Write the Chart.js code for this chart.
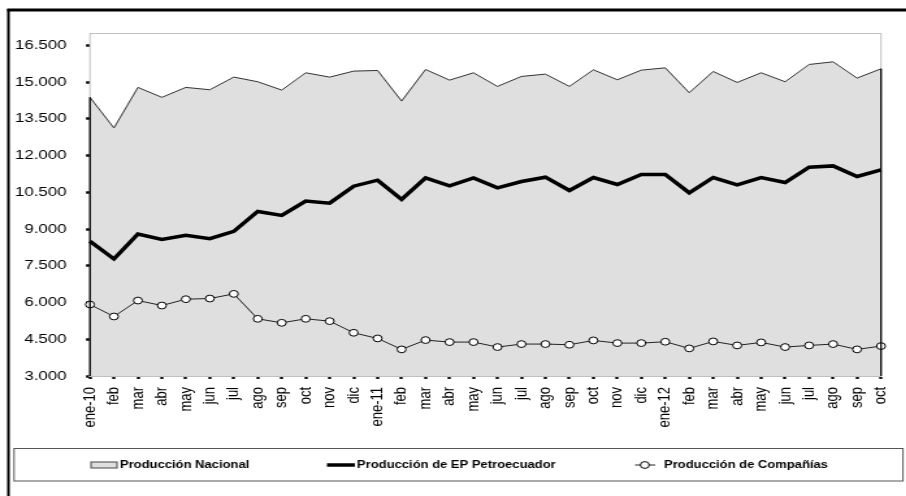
<!DOCTYPE html>
<html>
<head>
<meta charset="utf-8">
<script src="https://cdn.jsdelivr.net/npm/chart.js@4.4.0/dist/chart.umd.min.js"></script>
<style>
html, body { margin: 0; padding: 0; background: #fff; overflow: hidden; }
/* el grafico original esta estirado en horizontal, por eso el scaleX */
#wrap { width: 697px; height: 496px; transform: scaleX(1.3); transform-origin: 0 0; }
</style>
</head>
<body>
<div id="wrap"><canvas id="grafico" width="697" height="496"></canvas></div>
<script>
/******** datos (barriles diarios) ********/
const meses = ["ene-10", "feb", "mar", "abr", "may", "jun", "jul", "ago", "sep", "oct", "nov", "dic",
    "ene-11", "feb", "mar", "abr", "may", "jun", "jul", "ago", "sep", "oct", "nov", "dic",
    "ene-12", "feb", "mar", "abr", "may", "jun", "jul", "ago", "sep", "oct"];

const nacional = [14374, 13123, 14779, 14374, 14779, 14684, 15200, 15010, 14670, 15376, 15199, 15444,
    15471, 14222, 15512, 15077, 15376, 14820, 15227, 15322, 14820, 15498, 15091, 15484,
    15579, 14562, 15430, 14982, 15376, 15010, 15715, 15824, 15159, 15539];

const petroecuador = [8496, 7777, 8794, 8577, 8740, 8604, 8903, 9717, 9554, 10138, 10056, 10748,
    10993, 10206, 11088, 10762, 11088, 10681, 10938, 11115, 10572, 11101, 10816, 11223,
    11223, 10477, 11101, 10803, 11101, 10898, 11522, 11576, 11142, 11413];

const companias = [5918, 5429, 6080, 5877, 6135, 6162, 6352, 5334, 5171, 5334, 5239, 4764,
    4533, 4086, 4466, 4384, 4384, 4181, 4303, 4303, 4276, 4452, 4343, 4343,
    4398, 4126, 4411, 4248, 4371, 4181, 4248, 4303, 4086, 4221];

const yTicks = [3000, 4500, 6000, 7500, 9000, 10500, 12000, 13500, 15000, 16500];
/******************************************/

const fuente = "'Liberation Sans', Arial, sans-serif";

// 16500 -> "16.500"
function formatoMiles(v) {
    return String(v).replace(/\B(?=(\d{3})+(?!\d))/g, '.');
}

// marco exterior, borde del area de trazado, bordes del area y leyenda
const marcoYLeyenda = {
    id: 'marcoYLeyenda',
    beforeDraw(chart) {
        const ctx = chart.ctx;
        ctx.save();
        ctx.fillStyle = '#fff';
        ctx.fillRect(0, 0, chart.width, chart.height);
        ctx.restore();
    },
    beforeDatasetsDraw(chart) {
        const ctx = chart.ctx;
        const a = chart.chartArea;
        ctx.save();
        ctx.strokeStyle = '#c0c0c0';
        ctx.lineWidth = 1;
        ctx.strokeRect(a.left, a.top + 0.5, a.right - a.left, a.bottom - a.top);
        ctx.restore();
    },
    afterDatasetsDraw(chart) {
        // bordes laterales del area "Produccion Nacional"
        const ctx = chart.ctx;
        const a = chart.chartArea;
        const y = chart.scales.y;
        ctx.save();
        ctx.strokeStyle = '#000';
        ctx.lineWidth = 1.3;
        ctx.beginPath();
        ctx.moveTo(a.left, y.getPixelForValue(nacional[0]));
        ctx.lineTo(a.left, a.bottom);
        ctx.moveTo(a.right, y.getPixelForValue(nacional[nacional.length - 1]));
        ctx.lineTo(a.right, a.bottom);
        ctx.stroke();
        ctx.restore();
    },
    afterDraw(chart) {
        const ctx = chart.ctx;
        const ds = chart.data.datasets;
        ctx.save();
        // marco exterior
        ctx.strokeStyle = '#000';
        ctx.lineWidth = 3;
        ctx.beginPath();
        ctx.moveTo(5.5, 10);
        ctx.lineTo(chart.width, 10);
        ctx.stroke();
        ctx.lineWidth = 2;
        ctx.beginPath();
        ctx.moveTo(6.5, 9);
        ctx.lineTo(6.5, chart.height);
        ctx.stroke();

        // caja de leyenda
        ctx.strokeStyle = '#555';
        ctx.lineWidth = 1;
        ctx.strokeRect(10.8, 448.5, 683.8, 32.5);

        const yc = 465;
        // area
        ctx.fillStyle = ds[2].backgroundColor;
        ctx.fillRect(70, 462, 20, 6);
        ctx.strokeStyle = '#444';
        ctx.strokeRect(70, 462, 20, 6);
        // linea gruesa
        ctx.strokeStyle = ds[1].borderColor;
        ctx.lineWidth = ds[1].borderWidth;
        ctx.beginPath();
        ctx.moveTo(251.5, yc);
        ctx.lineTo(273, yc);
        ctx.stroke();
        // linea con marcador
        ctx.strokeStyle = ds[0].borderColor;
        ctx.lineWidth = 1;
        ctx.beginPath();
        ctx.moveTo(488.5, yc);
        ctx.lineTo(504, yc);
        ctx.stroke();
        ctx.beginPath();
        ctx.arc(496, yc, ds[0].pointRadius, 0, Math.PI * 2);
        ctx.fillStyle = '#fff';
        ctx.fill();
        ctx.strokeStyle = '#000';
        ctx.stroke();

        ctx.fillStyle = '#000';
        ctx.font = "bold 10px " + fuente;
        ctx.textBaseline = 'middle';
        ctx.fillText(ds[2].label, 92.3, yc);
        ctx.fillText(ds[1].label, 274.6, yc);
        ctx.fillText(ds[0].label, 510.8, yc);
        ctx.restore();
    }
};

var ctx = document.getElementById("grafico").getContext("2d");
var grafico = new Chart(ctx, {
    type: "line",
    data: {
        labels: meses,
        datasets: [
            {
                label: "Producción de Compañías",
                data: companias,
                borderColor: "#222",
                borderWidth: 1,
                pointRadius: 3.4,
                pointBackgroundColor: "#fff",
                pointBorderColor: "#000",
                pointBorderWidth: 1,
                fill: false,
                order: 1
            },
            {
                label: "Producción de EP Petroecuador",
                data: petroecuador,
                borderColor: "#000",
                borderWidth: 3.5,
                pointRadius: 0,
                fill: false,
                order: 2
            },
            {
                label: "Producción Nacional",
                data: nacional,
                borderColor: "#333",
                borderWidth: 1,
                backgroundColor: "#dfdfdf",
                pointRadius: 0,
                fill: "start",
                order: 3
            }
        ]
    },
    options: {
        responsive: false,
        animation: false,
        layout: { padding: { left: 0, top: 33, right: 19.3, bottom: 0 } },
        plugins: {
            legend: { display: false },
            tooltip: { enabled: false },
            filler: { drawTime: 'beforeDatasetsDraw' }
        },
        scales: {
            x: {
                offset: false,
                grid: { drawOnChartArea: false, tickLength: 3, tickWidth: 2.3, tickColor: '#000' },
                border: { color: '#808080', width: 2 },
                ticks: {
                    autoSkip: false, minRotation: 90, maxRotation: 90, padding: 8,
                    color: '#000', font: { family: fuente, size: 13 }
                },
                afterFit(s) {
                    s.height = 120;
                    // que la ultima etiqueta no encoja el area de trazado
                    s.paddingLeft = 0;
                    s.paddingRight = 0;
                }
            },
            y: {
                min: 3000,
                max: 17000,
                afterBuildTicks(s) { s.ticks = yTicks.map(v => ({ value: v })); },
                grid: { drawOnChartArea: false, tickLength: 3, tickWidth: 2.5, tickColor: '#000' },
                border: { display: false },
                ticks: {
                    padding: 15, color: '#000', font: { family: fuente, size: 13 },
                    callback: v => formatoMiles(v)
                },
                afterFit(s) { s.width = 69.2; }
            }
        }
    },
    plugins: [marcoYLeyenda]
});
</script>
</body>
</html>
